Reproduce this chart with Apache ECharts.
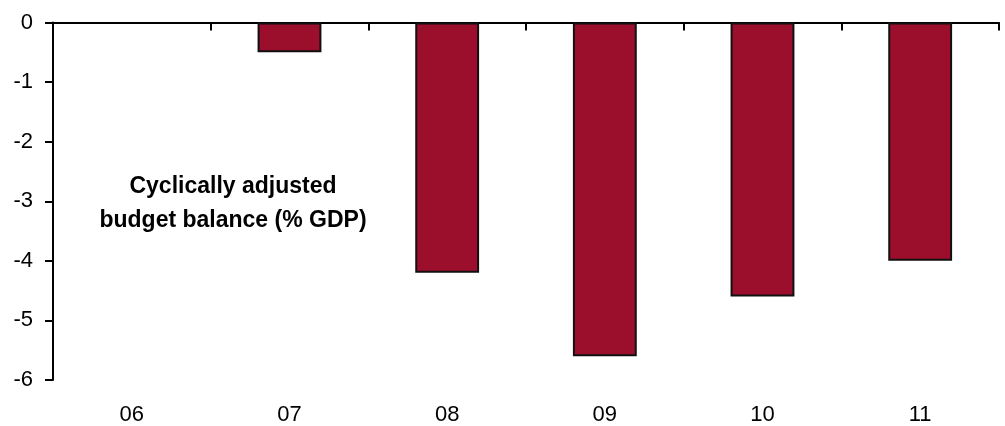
<!DOCTYPE html>
<html>
<head>
<meta charset="utf-8">
<script src="https://cdn.jsdelivr.net/npm/echarts@6/dist/echarts.min.js"></script>
<style>
  html, body { margin: 0; padding: 0; background: #fff; }
  #chart { width: 1005px; height: 426px; }
</style>
</head>
<body>
<div id="chart"></div>
<script>
// Cyclically adjusted budget balance, % of GDP (no bar shown for 06)
const years = ['06', '07', '08', '09', '10', '11'];
const balance = [null, -0.5, -4.2, -5.6, -4.6, -4.0];
const yTicks = [0, -1, -2, -3, -4, -5, -6];

const font = '"Liberation Sans", Arial, sans-serif';
const chart = echarts.init(document.getElementById('chart'));

chart.setOption({
  animation: false,
  grid: { left: 53, right: 6, top: 22.5, bottom: 45.5 },
  xAxis: [
    {
      // category labels along the bottom
      type: 'category',
      data: years,
      position: 'bottom',
      axisLine: { show: false, onZero: false },
      axisTick: { show: false },
      axisLabel: { color: '#000', fontFamily: font, fontSize: 22, margin: 24 }
    },
    {
      // zero line with its tick marks at the top
      type: 'category',
      data: years,
      position: 'top',
      axisLine: { show: true, onZero: false, lineStyle: { color: '#000', width: 2 } },
      axisTick: { show: true, inside: true, length: 8, lineStyle: { color: '#000', width: 2 } },
      axisLabel: { show: false }
    }
  ],
  yAxis: {
    type: 'value',
    min: yTicks[yTicks.length - 1],
    max: yTicks[0],
    interval: 1,
    axisLine: { show: true, lineStyle: { color: '#000', width: 2 } },
    axisTick: { show: true, length: 8, lineStyle: { color: '#000', width: 2 } },
    splitLine: { show: false },
    axisLabel: { color: '#000', fontFamily: font, fontSize: 22, margin: 20 }
  },
  graphic: [
    {
      type: 'text',
      x: 233,
      y: 170,
      style: {
        text: 'Cyclically adjusted\nbudget balance (% GDP)',
        fontFamily: font,
        fontSize: 23,
        fontWeight: 'bold',
        fill: '#000',
        align: 'center',
        lineHeight: 34
      }
    }
  ],
  series: [
    {
      type: 'bar',
      data: balance,
      xAxisIndex: 0,
      barWidth: '40.5%',
      itemStyle: { color: '#9B0F2D', borderColor: '#111', borderWidth: 2 }
    }
  ]
});
</script>
</body>
</html>
